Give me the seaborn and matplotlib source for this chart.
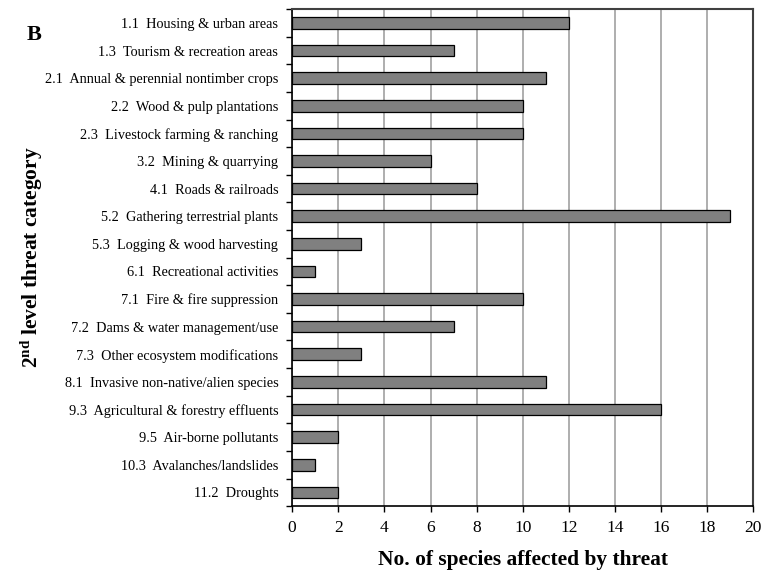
import matplotlib
matplotlib.use("Agg")
import matplotlib.pyplot as plt
import seaborn as sns
import pandas as pd
import numpy as np

categories = [
    "1.1  Housing & urban areas",
    "1.3  Tourism & recreation areas",
    "2.1  Annual & perennial nontimber crops",
    "2.2  Wood & pulp plantations",
    "2.3  Livestock farming & ranching",
    "3.2  Mining & quarrying",
    "4.1  Roads & railroads",
    "5.2  Gathering terrestrial plants",
    "5.3  Logging & wood harvesting",
    "6.1  Recreational activities",
    "7.1  Fire & fire suppression",
    "7.2  Dams & water management/use",
    "7.3  Other ecosystem modifications",
    "8.1  Invasive non-native/alien species",
    "9.3  Agricultural & forestry effluents",
    "9.5  Air-borne pollutants",
    "10.3  Avalanches/landslides",
    "11.2  Droughts",
]
counts = [12, 7, 11, 10, 10, 6, 8, 19, 3, 1, 10, 7, 3, 11, 16, 2, 1, 2]
xticks = [0, 2, 4, 6, 8, 10, 12, 14, 16, 18, 20]

sns.set_theme(style="white")
plt.rcParams["font.family"] = ["Liberation Serif", "DejaVu Serif"]
plt.rcParams["mathtext.fontset"] = "custom"
plt.rcParams["mathtext.rm"] = "Liberation Serif"
plt.rcParams["mathtext.bf"] = "Liberation Serif:bold"
plt.rcParams["text.color"] = "black"
plt.rcParams["axes.labelcolor"] = "black"
plt.rcParams["xtick.color"] = "black"
plt.rcParams["ytick.color"] = "black"

df = pd.DataFrame({"cat": categories, "n": counts})

fig = plt.figure(figsize=(7.75, 5.7), dpi=100)
ax = fig.add_axes([0.377, 0.112, 0.595, 0.872])

ax.set_axisbelow(True)
ax.xaxis.grid(True, color="#a8a8a8", linewidth=1.3)
ax.yaxis.grid(False)

sns.barplot(data=df, y="cat", x="n", orient="h", color="#808080",
            edgecolor="black", linewidth=0.9, width=0.42, saturation=1, ax=ax)

ax.set_xlim(0, 20)
ax.set_ylim(len(categories) - 0.5, -0.5)
ax.set_xticks(xticks)
ax.set_xticklabels([str(v) for v in xticks], fontsize=12.5)
ax.tick_params(axis="x", bottom=True, direction="out", length=4, width=1,
               color="black", labelcolor="black", pad=6)
ax.set_yticks(range(len(categories)))
ax.set_yticklabels(categories, fontsize=10.3)
ax.tick_params(axis="y", which="major", left=False, length=0, pad=10, labelcolor="black")
ax.set_yticks(np.arange(-0.5, len(categories), 1.0), minor=True)
ax.tick_params(axis="y", which="minor", left=True, direction="out", length=4,
               width=1, color="black")

for side in ["left", "bottom"]:
    ax.spines[side].set_color("black")
    ax.spines[side].set_linewidth(1.2)
for side in ["top", "right"]:
    ax.spines[side].set_color("#404040")
    ax.spines[side].set_linewidth(1.5)

ax.set_xlabel("No. of species affected by threat", fontsize=15.4, fontweight="bold",
              labelpad=10, color="black")
ax.set_ylabel(r"$\mathbf{2^{nd}}$ level threat category", fontsize=15.4,
              fontweight="bold", color="black")
ax.yaxis.set_label_coords(-0.535, 0.5)

fig.text(0.034, 0.938, "B", fontsize=16, fontweight="bold", ha="left", va="center",
         color="black")

fig.savefig("out.png", dpi=100)
